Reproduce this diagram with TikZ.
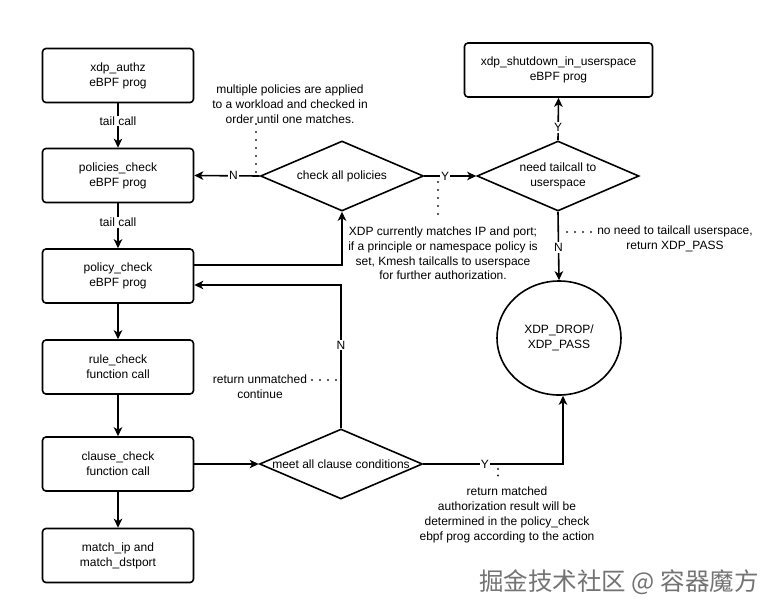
\documentclass[tikz,border=0pt]{standalone}
\usepackage{fontspec}
\setmainfont{Liberation Sans}
\newfontfamily\cjkfont{Noto Sans CJK SC}
\usetikzlibrary{arrows.meta,shapes.geometric}
\begin{document}
\begin{tikzpicture}[x=1pt,y=-1pt,font=\fontsize{12}{14.8}\selectfont,
 box/.style={draw,line width=1.6pt,rounded corners=3.5pt,minimum width=151pt,minimum height=54pt,align=center,inner sep=2pt},
 dec/.style={draw,diamond,line width=1.6pt,inner sep=0pt,minimum width=163pt,minimum height=70pt},
 arr/.style={line width=1.6pt,-{Stealth[length=9pt,width=8.5pt,inset=2.5pt]}},
 lbl/.style={fill=white,inner sep=1pt},
 note/.style={align=center,inner sep=0pt},
 dotline/.style={line width=2.1pt,line cap=round,dash pattern=on 0pt off 8pt,black!85}]
\useasboundingbox[fill=white] (0,0) rectangle (782,614);
% left column
\node[box] (authz) at (118,75.5) {xdp\_authz\\eBPF prog};
\node[box] (pcheck) at (118,175.5) {policies\_check\\eBPF prog};
\node[box] (policy) at (118,276) {policy\_check\\eBPF prog};
\node[box] (rule) at (118,367) {rule\_check\\function call};
\node[box] (clause) at (118,464) {clause\_check\\function call};
\node[box] (match) at (118,555.5) {match\_ip and\\match\_dstport};
% right part
\node[box,minimum width=188pt] (shut) at (558.5,70) {xdp\_shutdown\_in\_userspace\\eBPF prog};
\node[dec,label={center:check all policies}] (all) at (342,176) {};
\node[dec,minimum width=162pt,label={[align=center]center:need tailcall to\\userspace}] (need) at (558,176) {};
\node[dec,label={center:meet all clause conditions}] (meet) at (341,464) {};
\node[draw,ellipse,line width=1.6pt,minimum width=124pt,minimum height=114pt,align=center] (circ) at (559,338) {XDP\_DROP/\\XDP\_PASS};
% connectors
\draw[arr] (authz) -- node[lbl,pos=0.4]{tail call} (pcheck);
\draw[arr] (pcheck) -- node[lbl,pos=0.42]{tail call} (policy);
\draw[arr] (policy) -- (rule);
\draw[arr] (rule) -- (clause);
\draw[arr] (clause) -- (match);
\draw[arr] (all.west) -- node[lbl,pos=0.4]{N} (pcheck.east);
\draw[arr] (all.east) -- node[lbl,pos=0.4]{Y} (need.west);
\draw[arr] (need.north) -- node[lbl,pos=0.3]{Y} (shut.south);
\draw[arr] (need.south) -- node[lbl,pos=0.52]{N} (circ.north);
\draw[arr] ([yshift=11pt]policy.east) -| (all.south);
\draw[arr] (meet.north) |- node[lbl,pos=0.29]{N} ([yshift=-9pt]policy.east);
\draw[arr] (clause.east) -- (meet.west);
\draw[arr] (meet.east) -| node[lbl,pos=0.22]{Y} ([xshift=4pt]circ.south);
% notes
\node[note] (n1) at (290,104.5) {multiple policies are applied\\to a workload and checked in\\order until one matches.};
\node[note] (n2) at (443,253.5) {XDP currently matches IP and port;\\if a principle or namespace policy is\\set, Kmesh tailcalls to userspace\\for further authorization.};
\node[note] (n3) at (675,238.5) {no need to tailcall userspace,\\return XDP\_PASS};
\node[note] (n4) at (260,387) {return unmatched\\continue};
\node[note] (n5) at (507,515) {return matched\\authorization result will be\\determined in the policy\_check\\ebpf prog according to the action};
\coordinate (d1a) at (256,124); \coordinate (d1b) at (256,174);
\coordinate (d2a) at (438,182); \coordinate (d2b) at (438,215);
\coordinate (d3a) at (567,232); \coordinate (d3b) at (591,232);
\coordinate (d4a) at (312,380); \coordinate (d4b) at (336,380);
\coordinate (d5a) at (498,469); \coordinate (d5b) at (498,482);
\draw[dotline] (d1a) -- (d1b);
\draw[dotline] (d2a) -- (d2b);
\draw[dotline] (d3a) -- (d3b);
\draw[dotline] (d4a) -- (d4b);
\draw[dotline, dash pattern=on 0pt off 6.5pt] (d5a) -- (d5b);
% watermark
\node[text=black!55,font=\cjkfont\fontsize{24.5}{24.5}\selectfont,inner sep=0pt] (wm) at (619,582) {掘金技术社区 @ 容器魔方};
\end{tikzpicture}
\end{document}
